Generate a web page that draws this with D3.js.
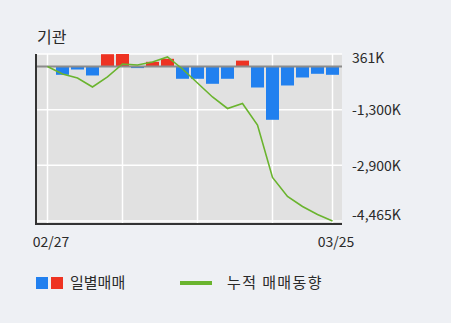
<html>
<head>
<meta charset="utf-8">
<style>
  body{
    margin:0;
    background-color:#eef0f4;
  }
  text{
    font-family:"Noto Sans CJK KR","Noto Sans",sans-serif;
    fill:#2a2a2a;
  }
</style>
<script src="https://d3js.org/d3.v7.min.js"></script>
</head>
<body>
<svg id="chart" width="451" height="323"></svg>
<script>
// trading days 02/27 ~ 03/25
let days = ["02/27","02/28","03/02","03/03","03/04","03/05","03/06","03/09","03/10","03/11",
            "03/12","03/13","03/16","03/17","03/18","03/19","03/20","03/23","03/24","03/25"];
// daily net buying (K shares)
let daily = [0,-240,-87,-260,355,361,-46,135,222,-355,
             -355,-500,-355,170,-607,-1540,-549,-318,-211,-240];
// cumulative line (K shares)
let cumul = [0,-217,-332,-592,-303,72,43,130,275,-72,
             -477,-881,-1214,-1069,-1691,-3208,-3757,-4046,-4277,-4465];
let yTicks = [361,-1247.7,-2856.3,-4465];
let yLabels = ["361K","-1,300K","-2,900K","-4,465K"];
let xGridIdx = [0,5,10,15,19];
let xLabelIdx = [0,19];

let svg = d3.select("#chart");

let x = d3.scaleBand().domain(days).range([40,340]).paddingInner(2/15).paddingOuter(0.5*2/15);
let y = d3.scaleLinear().domain([-4465,361]).range([221,54]);
let cx = function(d){ return x(d)+x.bandwidth()/2; };

// plot background
svg.append("rect").attr("x",36).attr("y",54).attr("width",306).attr("height",170).attr("fill","#e1e1e1");

// grid
svg.selectAll(".hg").data(yTicks).enter().append("line")
  .attr("x1",36).attr("x2",342)
  .attr("y1",d=>y(d)).attr("y2",d=>y(d))
  .attr("stroke","#fff").attr("stroke-width",1.5);
svg.selectAll(".vg").data(xGridIdx).enter().append("line")
  .attr("x1",d=>cx(days[d])).attr("x2",d=>cx(days[d]))
  .attr("y1",54).attr("y2",224)
  .attr("stroke","#fff").attr("stroke-width",1.5);

// bars
svg.selectAll(".bar").data(daily).enter().append("rect")
  .attr("x",(d,i)=>x(days[i]))
  .attr("width",x.bandwidth())
  .attr("y",d=>d>0?y(d):y(0))
  .attr("height",d=>Math.abs(y(d)-y(0)))
  .attr("fill",d=>d>0?"#ee3322":"#2180ef");

// zero line
svg.append("line").attr("x1",36).attr("x2",342).attr("y1",y(0)).attr("y2",y(0))
  .attr("stroke","#8c8c8c").attr("stroke-width",2);

// cumulative line
let line = d3.line().x((d,i)=>cx(days[i])).y(d=>y(d));
svg.append("path").datum(cumul).attr("d",line)
  .attr("fill","none").attr("stroke","#6ab42e").attr("stroke-width",1.6);

// axes
svg.append("line").attr("x1",36).attr("x2",36).attr("y1",54).attr("y2",225)
  .attr("stroke","#333").attr("stroke-width",2);
svg.append("line").attr("x1",35).attr("x2",342).attr("y1",224).attr("y2",224)
  .attr("stroke","#333").attr("stroke-width",2);

// y labels
let yLabelY = [58,110,166,215];
svg.selectAll(".yl").data(yLabels).enter().append("text")
  .attr("x",352).attr("y",(d,i)=>yLabelY[i]).attr("dy","0.35em")
  .attr("font-size",14).text(d=>d);

// x labels
svg.selectAll(".xl").data(xLabelIdx).enter().append("text")
  .attr("x",d=>cx(days[d])+3.5).attr("y",242).attr("dy","0.35em")
  .attr("text-anchor","middle").attr("font-size",14).text(d=>days[d]);

// title
svg.append("text").attr("x",37).attr("y",37).attr("dy","0.35em").attr("font-size",16).text("기관");

// legend
svg.append("rect").attr("x",36).attr("y",277).attr("width",12).attr("height",12).attr("fill","#2180ef");
svg.append("rect").attr("x",51).attr("y",277).attr("width",12).attr("height",12).attr("fill","#ee3322");
svg.append("text").attr("x",70).attr("y",283).attr("dy","0.35em").attr("font-size",15).text("일별매매");
svg.append("line").attr("x1",180).attr("x2",212).attr("y1",283).attr("y2",283)
  .attr("stroke","#6ab42e").attr("stroke-width",4);
svg.append("text").attr("x",227).attr("y",283).attr("dy","0.35em").attr("font-size",15)
  .attr("letter-spacing",1.4).text("누적 매매동향");
</script>
</body>
</html>
